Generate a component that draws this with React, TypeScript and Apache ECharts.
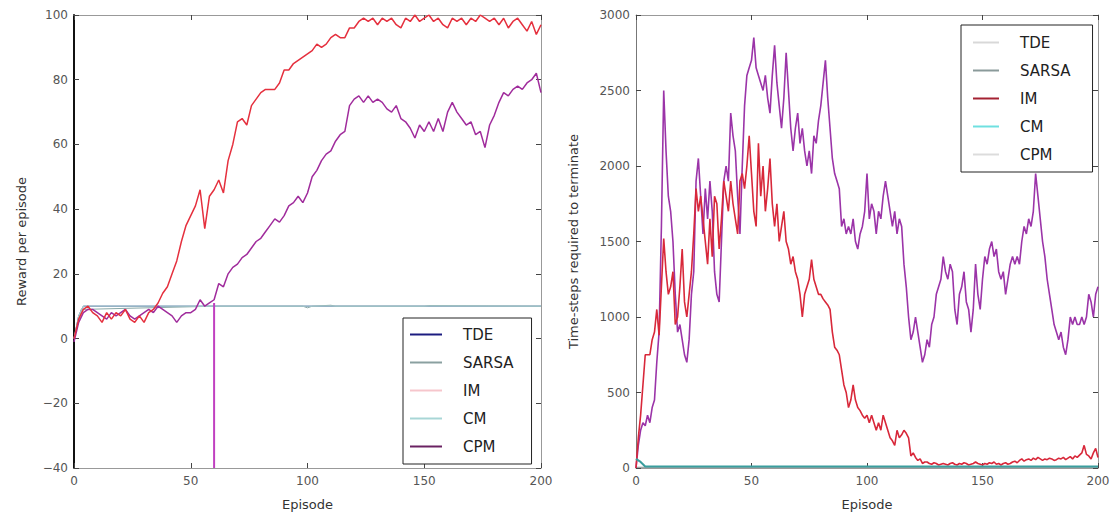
import React, { useEffect, useRef } from "react";
import * as echarts from "echarts";

// ---------- Left chart: reward per episode ----------
const leftStepEpisodes = [
  0, 2, 4, 6, 8, 10, 12, 14, 16, 18, 20, 22, 24, 26, 28, 30, 32, 34, 36, 38, 40, 42, 44, 46, 48, 50,
  52, 54, 56, 58, 60, 62, 64, 66, 68, 70, 72, 74, 76, 78, 80, 82, 84, 86, 88, 90, 92, 94, 96, 98, 100,
  102, 104, 106, 108, 110, 112, 114, 116, 118, 120, 122, 124, 126, 128, 130, 132, 134, 136, 138, 140,
  142, 144, 146, 148, 150, 152, 154, 156, 158, 160, 162, 164, 166, 168, 170, 172, 174, 176, 178, 180,
  182, 184, 186, 188, 190, 192, 194, 196, 198, 200,
];
const leftImValues = [
  0, 6, 9, 10, 8, 7, 5, 8, 6, 8, 7, 9, 6, 5, 7, 5, 8, 9, 11, 14, 16, 20, 24, 30, 35, 38,
  41, 46, 34, 44, 46, 49, 45, 55, 60, 67, 68, 66, 72, 74, 76, 77, 77, 77, 79, 83, 83, 85, 86, 87, 88,
  89, 91, 90, 91, 93, 94, 93, 93, 96, 96, 98, 99, 98, 99, 97, 99, 98, 99, 97, 96,
  99, 98, 100, 98, 99, 100, 98, 99, 97, 96, 99, 98, 99, 97, 99, 98, 100, 99, 98, 99,
  97, 99, 96, 98, 99, 97, 95, 98, 94, 97,
];
const leftCpmValues = [
  -1, 5, 8, 9, 9, 8, 7, 6, 8, 7, 8, 9, 7, 6, 7, 8, 9, 8, 10, 9, 8, 7, 5, 7, 8, 8,
  9, 12, 10, 11, 12, 17, 16, 20, 22, 23, 25, 26, 28, 30, 31, 33, 35, 37, 36, 38, 41, 42, 44, 42, 45,
  50, 52, 55, 57, 58, 61, 63, 64, 72, 74, 75, 73, 75, 73, 74, 73, 71, 70, 72, 68,
  67, 65, 62, 66, 64, 67, 64, 68, 64, 70, 73, 70, 68, 66, 67, 63, 64, 59, 66, 69,
  73, 76, 75, 77, 78, 77, 79, 80, 82, 76,
];
const leftCmEpisodes = [0, 2, 4, 60, 120, 200];
const leftCmValues = [0, 7, 10, 10, 10, 10];
const leftSarsaEpisodes = [0, 3, 60, 98, 100, 102, 110, 112, 150, 152, 200];
const leftSarsaValues = [0, 9, 10, 10, 9.5, 10, 10.3, 10, 10, 10.2, 10];
const leftTdeEpisodes = [0, 2, 4, 200];
const leftTdeValues = [0, 7, 10, 10];
const leftDropEpisodes = [60, 60];
const leftDropValues = [11, -40];

// ---------- Right chart: time-steps required to terminate ----------
const rightEpisodes = Array.from({ length: 201 }, (_, i) => i);
const rightImValues = [
  0, 200, 350, 550, 750, 750, 750, 850, 900, 1050, 880, 1200, 1520, 1300, 1150, 1200, 1300, 950, 1000, 1200,
  1450, 1100, 1000, 1150, 1300, 1550, 1850, 1700, 1800, 1650, 1500, 1350, 1650, 1400, 1800, 1750, 1450, 1650, 1900, 1800,
  1700, 1900, 1750, 1650, 1550, 1900, 1950, 1850, 2000, 2200, 1950, 1700, 1600, 2150, 1800, 2000, 1700, 1850, 2050, 1750,
  1600, 1750, 1500, 1600, 1700, 1500, 1450, 1350, 1400, 1300, 1250, 1150, 1000, 1150, 1200, 1250, 1380, 1250, 1200, 1150,
  1150, 1120, 1100, 1080, 1050, 900, 800, 780, 750, 650, 550, 500, 400, 450, 550, 450, 400, 380, 350, 330,
  350, 300, 350, 300, 250, 300, 250, 350, 300, 250, 200, 180, 150, 250, 200, 220, 250, 230, 200, 80,
  100, 70, 50, 60, 30, 40, 40, 30, 25, 35, 30, 20, 25, 30, 25, 20, 30, 35, 25, 20,
  30, 25, 35, 30, 20, 25, 30, 40, 30, 25, 20, 30, 25, 35, 30, 40, 25, 30, 20, 30,
  35, 25, 30, 40, 45, 35, 50, 60, 45, 55, 60, 50, 65, 55, 70, 60, 50, 60, 55, 65,
  60, 50, 55, 65, 60, 70, 55, 65, 75, 60, 80, 70, 85, 100, 150, 90, 80, 60, 100, 130,
  70,
];
const rightCpmValues = [
  0, 150, 250, 300, 280, 350, 300, 400, 450, 700, 900, 1600, 2500, 2100, 1800, 1700, 1500, 1150, 900, 950,
  850, 750, 700, 850, 1150, 1300, 1900, 2050, 1800, 1550, 1850, 1650, 1900, 1700, 1300, 1150, 1100, 1500, 1900, 2000,
  1900, 2350, 2200, 2100, 1800, 1550, 2000, 2400, 2600, 2650, 2700, 2850, 2650, 2600, 2550, 2500, 2600, 2450, 2350, 2600,
  2800, 2550, 2400, 2250, 2450, 2750, 2500, 2250, 2100, 2250, 2350, 2150, 2250, 2100, 2000, 2100, 1950, 2200, 2150, 2300,
  2400, 2550, 2700, 2450, 2250, 2050, 1950, 1900, 1850, 1600, 1650, 1550, 1600, 1550, 1650, 1500, 1450, 1550, 1600, 1700,
  1950, 1650, 1750, 1700, 1550, 1700, 1650, 1800, 1900, 1800, 1700, 1600, 1700, 1550, 1650, 1600, 1350, 1200, 1000, 850,
  900, 1000, 900, 800, 700, 750, 850, 800, 950, 1000, 1150, 1200, 1250, 1400, 1300, 1250, 1350, 1300, 1050, 950,
  1150, 1200, 1300, 1100, 1050, 900, 1050, 1350, 1150, 1050, 1250, 1400, 1350, 1450, 1500, 1400, 1450, 1300, 1250, 1300,
  1150, 1250, 1350, 1400, 1350, 1400, 1350, 1500, 1600, 1550, 1650, 1600, 1700, 1950, 1800, 1650, 1500, 1400, 1250, 1150,
  1050, 950, 900, 850, 900, 800, 750, 850, 1000, 950, 1000, 950, 950, 1000, 950, 1000, 1150, 1100, 1000, 1150,
  1200,
];
const rightCmEpisodes = [0, 2, 4, 200];
const rightCmValues = [60, 40, 10, 10];
const rightSarsaEpisodes = [0, 200];
const rightSarsaValues = [5, 5];
const rightTdeEpisodes = [0, 200];
const rightTdeValues = [3, 3];

const seriesNames = ["TDE", "SARSA", "IM", "CM", "CPM"];
const leftLegendColors = ["#1c1c80", "#8aa0a0", "#f6c6cc", "#a8d6d6", "#6a2262"];
const rightLegendColors = ["#d8d8d8", "#8a9a9a", "#a42232", "#6fe0e0", "#dcdcdc"];

const zip = (xs: number[], ys: number[]) => xs.map((x, i) => [x, ys[i]]);

const FONT = "DejaVu Sans";

function makeAxes(gridIndex: number, yMin: number, yMax: number, yInt: number, yName: string, yGap: number, leftSpine: any) {
  const tick = { show: true, inside: true, length: 5, lineStyle: { color: "#444", width: 1 } };
  const label = { fontFamily: FONT, fontSize: 12, color: "#555" };
  const frame = { show: true, onZero: false, lineStyle: { color: "#999", width: 1 } };
  const x = [
    {
      gridIndex, type: "value", min: 0, max: 200, interval: 50, position: "bottom",
      axisLine: frame, axisTick: tick, splitLine: { show: false },
      axisLabel: { ...label, margin: 7 },
      name: "Episode", nameLocation: "middle", nameGap: 30,
      nameTextStyle: { fontFamily: FONT, fontSize: 13, color: "#333" },
    },
    {
      gridIndex, type: "value", min: 0, max: 200, interval: 50, position: "top",
      axisLine: frame, axisTick: tick, splitLine: { show: false }, axisLabel: { show: false },
    },
  ];
  const y = [
    {
      gridIndex, type: "value", min: yMin, max: yMax, interval: yInt, position: "left",
      axisLine: { ...leftSpine, onZero: false }, axisTick: tick, splitLine: { show: false },
      axisLabel: { ...label, margin: 6, formatter: (v: number) => String(v).replace("-", "\u2212") },
      name: yName, nameLocation: "middle", nameGap: yGap,
      nameTextStyle: { fontFamily: FONT, fontSize: 13, color: "#333" },
    },
    {
      gridIndex, type: "value", min: yMin, max: yMax, interval: yInt, position: "right",
      axisLine: frame, axisTick: tick, splitLine: { show: false }, axisLabel: { show: false },
    },
  ];
  return { x, y };
}

function line(name: string, data: number[][], xi: number, yi: number, color: string, width = 1.5) {
  return {
    type: "line", name, data, xAxisIndex: xi, yAxisIndex: yi,
    showSymbol: false, symbol: "none", smooth: false,
    lineStyle: { color, width }, itemStyle: { color },
    emphasis: { disabled: true },
  };
}

function legendData(colors: string[]) {
  return seriesNames.map((n, i) => ({
    name: n,
    itemStyle: { color: colors[i] },
    lineStyle: { color: colors[i] },
  }));
}

export default function App() {
  const ref = useRef<HTMLDivElement>(null);
  useEffect(() => {
    if (!ref.current) return;
    const chart = echarts.init(ref.current, null, { renderer: "svg" });
    const a = makeAxes(0, -40, 100, 20, "Reward per episode", 46, { show: true, lineStyle: { color: "#111", width: 2 } });
    const b = makeAxes(1, 0, 3000, 500, "Time-steps required to terminate", 56, { show: true, lineStyle: { color: "#777", width: 1 } });
    const legendCommon = {
      orient: "vertical", icon: "rect", itemHeight: 2, itemGap: 13,
      backgroundColor: "#fff", borderColor: "#222", borderWidth: 1,
      textStyle: { fontFamily: FONT, fontSize: 15, color: "#222", lineHeight: 15, padding: [0, 0, 0, 16] },
      selectedMode: false,
    };
    chart.setOption({
      animation: false,
      backgroundColor: "#fff",
      grid: [
        { left: 74, top: 15, width: 467, height: 453 },
        { left: 636, top: 15, width: 462, height: 453 },
      ],
      xAxis: [...a.x, ...b.x],
      yAxis: [...a.y, ...b.y],
      legend: [
        { ...legendCommon, left: 403, top: 318, itemWidth: 32, padding: [9, 18, 10, 7], data: legendData(leftLegendColors) },
        { ...legendCommon, left: 961, top: 25, itemWidth: 26, padding: [10, 22, 10, 12], data: legendData(rightLegendColors) },
      ],
      series: [
        line("TDE", zip(leftTdeEpisodes, leftTdeValues), 0, 0, "#1c1c80", 1),
        line("SARSA", zip(leftSarsaEpisodes, leftSarsaValues), 0, 0, "#8aa8a8", 1),
        line("CM", zip(leftCmEpisodes, leftCmValues), 0, 0, "#a8d0d0", 1.2),
        line("CPM", zip(leftDropEpisodes, leftDropValues), 0, 0, "#c040c0", 2),
        line("CPM", zip(leftStepEpisodes, leftCpmValues), 0, 0, "#a02c9c", 1.5),
        line("IM", zip(leftStepEpisodes, leftImValues), 0, 0, "#e5303e", 1.5),
        line("TDE", zip(rightTdeEpisodes, rightTdeValues), 2, 2, "#d0d0d0", 1),
        line("SARSA", zip(rightSarsaEpisodes, rightSarsaValues), 2, 2, "#8a9a9a", 1),
        line("CPM", zip(rightEpisodes, rightCpmValues), 2, 2, "#9b34a8", 1.6),
        line("IM", zip(rightEpisodes, rightImValues), 2, 2, "#d8283a", 1.6),
        line("CM", zip(rightCmEpisodes, rightCmValues), 2, 2, "#3a9e9e", 2),
      ],
    });
    return () => chart.dispose();
  }, []);
  return (
    <div
      ref={ref}
      style={{ position: "fixed", left: 0, top: 0, width: 1118, height: 522, background: "#fff" }}
    />
  );
}
